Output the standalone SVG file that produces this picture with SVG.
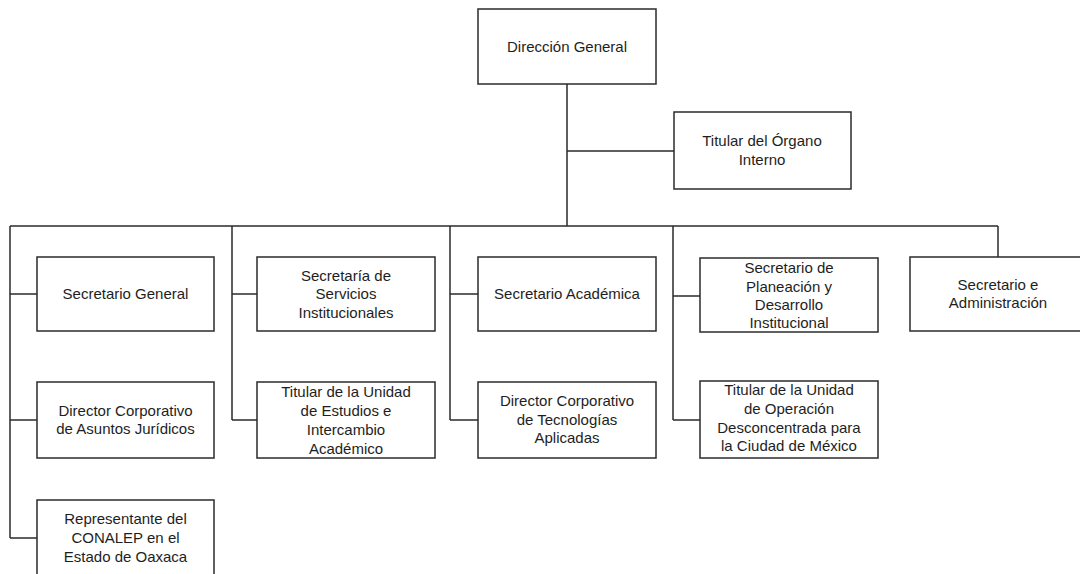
<svg xmlns="http://www.w3.org/2000/svg" width="1080" height="574" viewBox="0 0 1080 574">
<style>
.box{fill:#fff;stroke:#2b2b2b;stroke-width:1.5}
.ln{fill:none;stroke:#2b2b2b;stroke-width:1.5}
text{font-family:"Liberation Sans",Arial,sans-serif;font-size:15px;fill:#1e1e1e;text-anchor:middle}
</style>
<rect width="1080" height="574" fill="#fff"/>
<g id="connectors">
<path class="ln" d="M567 84V226M567 151H674M10 226H998M10 226V538M10 294H37M10 420H37M10 538H37M232 226V420M232 294H257M232 420H257M450 226V420M450 294H478M450 420H478M673 226V420M673 296H700M673 420H700M998 226V257"/>
</g>
<g id="n-direccion"><rect class="box" x="478" y="9" width="178" height="75"/><text x="567" y="52">Dirección General</text></g>
<g id="n-organo"><rect class="box" x="674" y="112" width="177" height="77"/><text x="762" y="146">Titular del Órgano</text><text x="762" y="165">Interno</text></g>
<g id="n-secgen"><rect class="box" x="37" y="257" width="177" height="74"/><text x="125.5" y="299">Secretario General</text></g>
<g id="n-juridicos"><rect class="box" x="37" y="382" width="177" height="76"/><text x="125.5" y="416">Director Corporativo</text><text x="125.5" y="434">de Asuntos Jurídicos</text></g>
<g id="n-oaxaca"><rect class="box" x="37" y="500" width="177" height="78"/><text x="125.5" y="524">Representante del</text><text x="125.5" y="543">CONALEP en el</text><text x="125.5" y="562">Estado de Oaxaca</text></g>
<g id="n-servicios"><rect class="box" x="257" y="257" width="178" height="74"/><text x="346" y="281">Secretaría de</text><text x="346" y="299">Servicios</text><text x="346" y="318">Institucionales</text></g>
<g id="n-estudios"><rect class="box" x="257" y="382" width="178" height="76"/><text x="346" y="397">Titular de la Unidad</text><text x="346" y="416">de Estudios e</text><text x="346" y="435">Intercambio</text><text x="346" y="454">Académico</text></g>
<g id="n-academica"><rect class="box" x="478" y="257" width="178" height="74"/><text x="567" y="299">Secretario Académica</text></g>
<g id="n-tecnologias"><rect class="box" x="478" y="382" width="178" height="76"/><text x="567" y="406">Director Corporativo</text><text x="567" y="425">de Tecnologías</text><text x="567" y="443">Aplicadas</text></g>
<g id="n-planeacion"><rect class="box" x="700" y="258" width="178" height="74"/><text x="789" y="273">Secretario de</text><text x="789" y="292">Planeación y</text><text x="789" y="310">Desarrollo</text><text x="789" y="328">Institucional</text></g>
<g id="n-operacion"><rect class="box" x="700" y="381" width="178" height="77"/><text x="789" y="395">Titular de la Unidad</text><text x="789" y="414">de Operación</text><text x="789" y="433">Desconcentrada para</text><text x="789" y="451">la Ciudad de México</text></g>
<g id="n-administracion"><rect class="box" x="910" y="257" width="178" height="74"/><text x="998" y="290">Secretario e</text><text x="998" y="308">Administración</text></g>
</svg>
